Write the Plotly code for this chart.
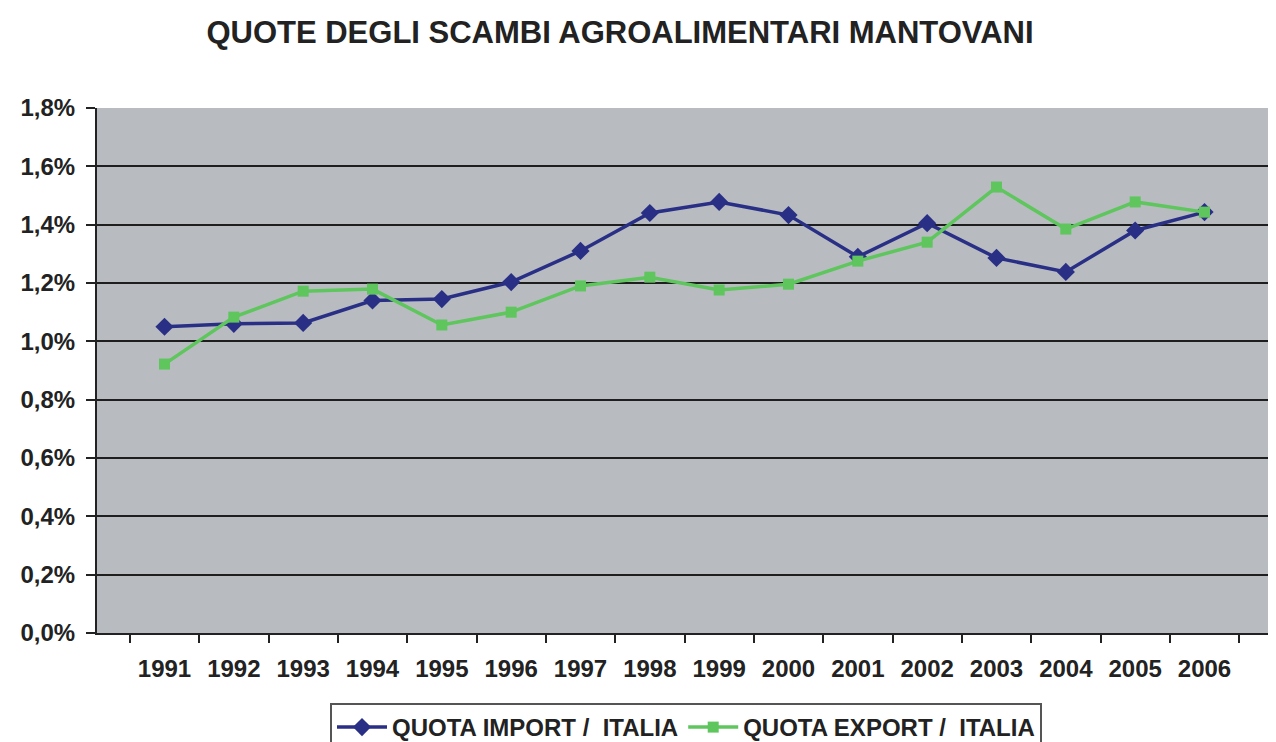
import plotly.graph_objects as go

years = ["1991", "1992", "1993", "1994", "1995", "1996", "1997", "1998",
         "1999", "2000", "2001", "2002", "2003", "2004", "2005", "2006"]
quota_import = [1.05, 1.06, 1.063, 1.14, 1.145, 1.203, 1.31, 1.44,
                1.478, 1.433, 1.29, 1.405, 1.286, 1.238, 1.38, 1.443]
quota_export = [0.922, 1.083, 1.172, 1.179, 1.056, 1.10, 1.19, 1.22,
                1.176, 1.196, 1.275, 1.34, 1.529, 1.385, 1.478, 1.443]
y_ticks = [0.0, 0.2, 0.4, 0.6, 0.8, 1.0, 1.2, 1.4, 1.6, 1.8]
y_ticktext = [f"{v:.1f}".replace(".", ",") + "%" for v in y_ticks]

FONT = "Liberation Sans, Arial, sans-serif"
TXT = "#222222"

W, H = 1268, 734
L, R, T, B = 89, 4, 100, 109
plot_h = H - T - B

fig = go.Figure()
fig.add_trace(go.Scatter(
    x=years, y=quota_import, mode="lines+markers",
    name="QUOTA IMPORT /  ITALIA",
    line=dict(color="#2a2f86", width=3.5),
    marker=dict(symbol="diamond", size=14, color="#2a2f86"),
))
fig.add_trace(go.Scatter(
    x=years, y=quota_export, mode="lines+markers",
    name="QUOTA EXPORT /  ITALIA",
    line=dict(color="#5ec65c", width=3.5),
    marker=dict(symbol="square", size=11, color="#5ec65c"),
))

fig.update_layout(
    width=W, height=H,
    margin=dict(l=L, r=R, t=T, b=B, autoexpand=False),
    paper_bgcolor="white",
    plot_bgcolor="#b8bcc1",
    font=dict(family=FONT, color=TXT, weight="bold"),
    title=dict(
        text="QUOTE DEGLI SCAMBI AGROALIMENTARI MANTOVANI",
        x=612 / W, xanchor="center", xref="container",
        y=1 - 24 / H, yanchor="middle", yref="container",
        font=dict(size=31, family=FONT, color=TXT, weight="bold"),
    ),
    showlegend=True,
    legend=dict(
        orientation="h",
        x=(678 - L) / (W - L - R), xanchor="center", xref="paper",
        y=-(695 - (H - B)) / plot_h, yanchor="top", yref="paper",
        bgcolor="white", bordercolor="#555555", borderwidth=2,
        font=dict(size=24, family=FONT, color=TXT, weight="bold"),
        tracegroupgap=0, itemwidth=50,
    ),
    xaxis=dict(
        type="category",
        showgrid=False,
        showline=True, linecolor="#222222", linewidth=2,
        ticks="outside", ticklen=8, tickcolor="#222222", tickwidth=2,
        tickson="boundaries",
        tickfont=dict(size=24, family=FONT, color=TXT, weight="bold"),
        ticklabelstandoff=13,
    ),
    yaxis=dict(
        range=[0, 1.8],
        tickvals=y_ticks,
        ticktext=y_ticktext,
        showgrid=True, gridcolor="#1e1e1e", gridwidth=2,
        zeroline=False,
        showline=True, linecolor="#222222", linewidth=2,
        ticks="outside", ticklen=9, tickcolor="#222222", tickwidth=2,
        tickfont=dict(size=24, family=FONT, color=TXT, weight="bold"),
        ticklabelstandoff=6,
    ),
)

fig.write_html("out.html")
